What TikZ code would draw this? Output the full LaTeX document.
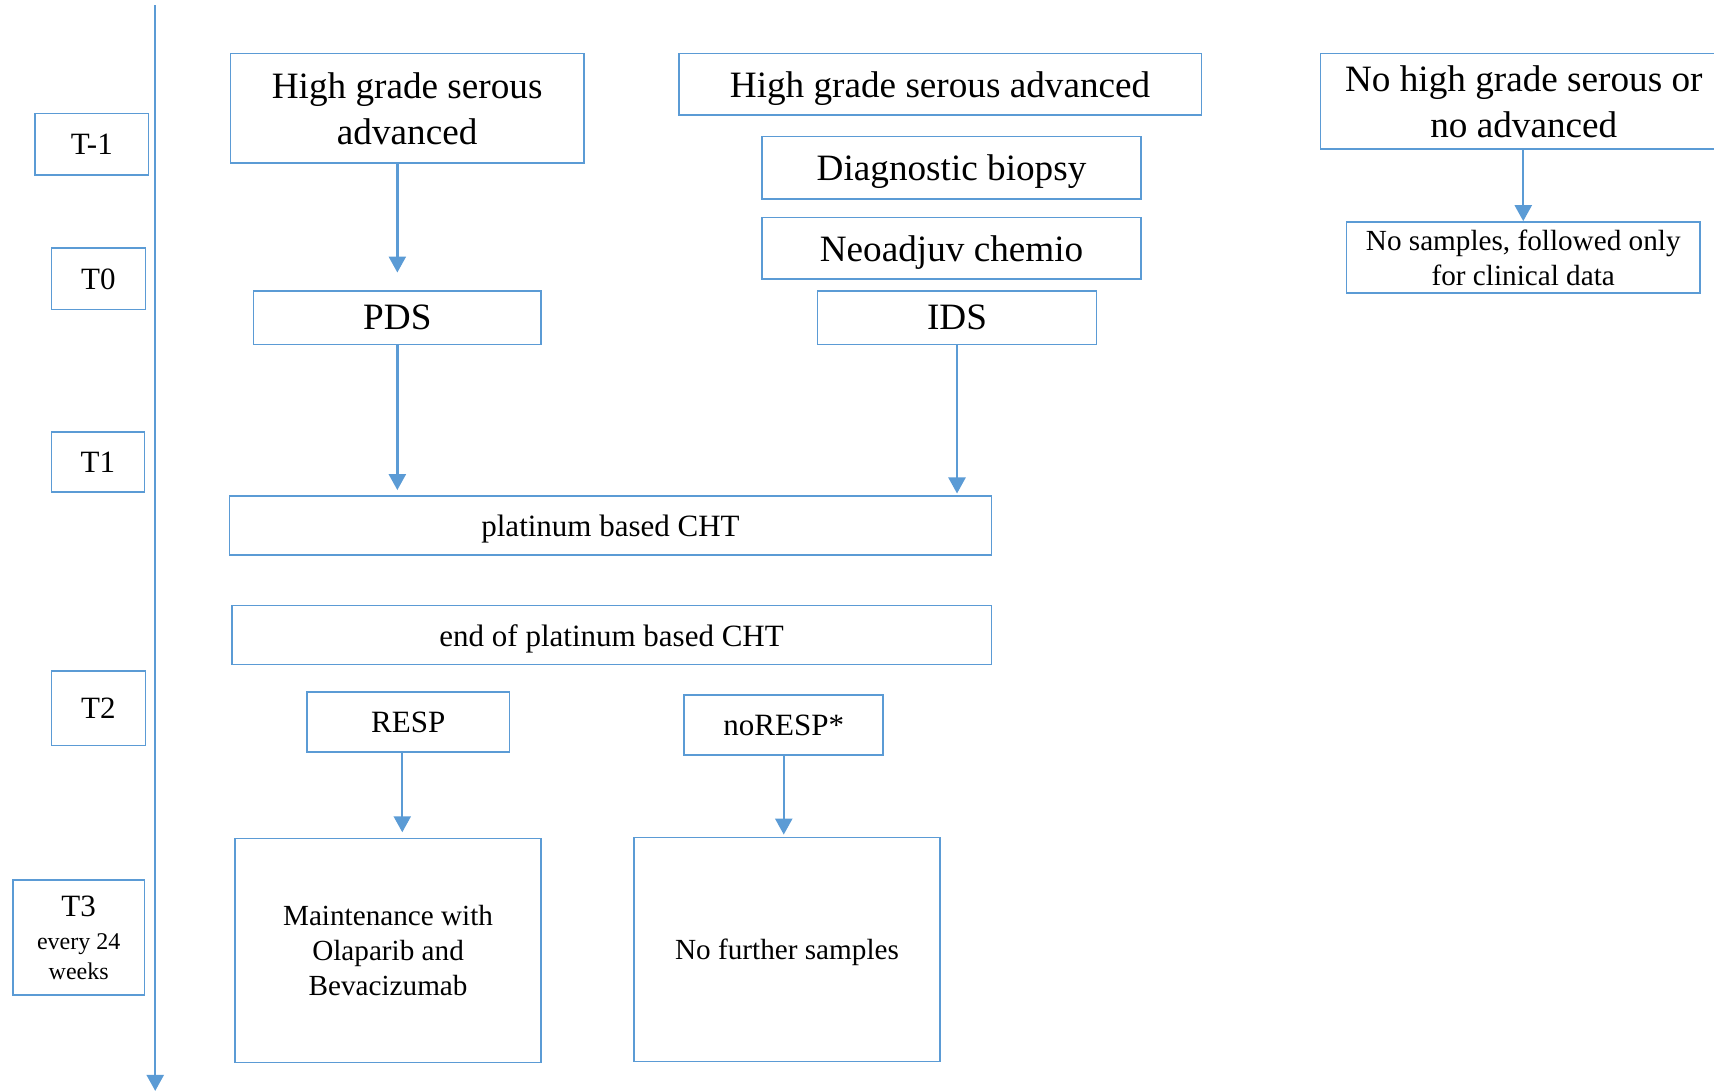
\documentclass[tikz,border=0pt]{standalone}
\usepackage{fontspec}
\setmainfont{Liberation Serif}
\usetikzlibrary{arrows.meta}

\definecolor{lineblue}{HTML}{5B9BD5}

\begin{document}
\begin{tikzpicture}[x=0.5466pt,y=-0.5466pt,
  box/.style={draw=lineblue,line width=0.8pt,inner sep=0pt,align=center,text depth=0pt},
  arr/.style={draw=lineblue,line width=1.2pt,-{Triangle[width=8.5pt,length=8pt]}},
  big/.style={font=\fontsize{18.6}{23}\selectfont},
  mid/.style={font=\fontsize{15.5}{18}\selectfont},
  small/.style={font=\fontsize{14.6}{17.5}\selectfont},
  tiny/.style={font=\fontsize{12}{14.8}\selectfont}]

\useasboundingbox (0,0) rectangle (1568,998);

% The time line on the left and its stages
\coordinate (axtop) at (142,5);
\coordinate (axbot) at (142,998);
\draw[arr] (axtop) -- (axbot);
\node[box,mid,minimum width=56.8pt,minimum height=30.6pt] (tm1) at (84,132) {T-1};
\node[box,mid,minimum width=47pt,minimum height=30.6pt] (t0) at (90,255) {T0};
\node[box,mid,minimum width=46.5pt,minimum height=30pt] (t1) at (89.5,422.5) {T1};
\node[box,mid,minimum width=47pt,minimum height=37.2pt] (t2) at (90,648) {T2};
\node[box,tiny,minimum width=65.6pt,minimum height=57.4pt] (t3) at (72,857.5)
  {{\fontsize{15.5}{17}\selectfont T3}\\[2pt]every 24\\weeks};

% Primary debulking branch
\node[box,big,minimum width=176.6pt,minimum height=54.7pt] (hgsA) at (372.5,99) {High grade serous\\advanced};
\node[box,big,minimum width=143.8pt,minimum height=26.8pt] (pds) at (363.5,290.5) {PDS};

% Neoadjuvant branch
\node[box,big,minimum width=261.3pt,minimum height=30.6pt] (hgsB) at (860,77) {High grade serous advanced};
\node[box,big,minimum width=189.7pt,minimum height=31.2pt] (biopsy) at (870.5,153.5) {Diagnostic biopsy};
\node[box,big,minimum width=189.7pt,minimum height=30.6pt] (neoadj) at (870.5,227) {Neoadjuv chemio};
\node[box,big,minimum width=139.4pt,minimum height=26.8pt] (ids) at (875.5,290.5) {IDS};

% Excluded patients
\node[box,big,minimum width=203.3pt,minimum height=47.6pt] (nohgs) at (1394,92.5) {No high grade serous or\\no advanced};
\node[box,small,minimum width=176.6pt,minimum height=35.5pt] (nosamp) at (1393.5,235.5) {No samples, followed only\\for clinical data};

% Chemotherapy
\node[box,mid,minimum width=381pt,minimum height=29.5pt] (plat) at (558.5,481) {platinum based CHT};
\node[box,mid,minimum width=379.9pt,minimum height=29.5pt] (endplat) at (559.5,581) {end of platinum based CHT};

% Response and follow up
\node[box,mid,minimum width=101.1pt,minimum height=30pt] (resp) at (373.5,660.5) {RESP};
\node[box,mid,minimum width=99.5pt,minimum height=30pt] (noresp) at (717,663.5) {noRESP*};
\node[box,small,minimum width=153pt,minimum height=112pt] (maint) at (355,869.5) {Maintenance with\\Olaparib and\\Bevacizumab};
\node[box,small,minimum width=153pt,minimum height=112pt] (nofurther) at (720,868.5) {No further samples};

% Arrows between the boxes
\draw[arr,shorten >=8.7pt] (pds.north |- hgsA.south) -- (pds.north);
\draw[arr,shorten >=2.7pt] (pds.south) -- (pds.south |- plat.north);
\draw[arr,shorten >=1pt] (ids.south) -- (ids.south |- plat.north);
\draw[arr] (nohgs.south -| nosamp.north) -- (nosamp.north);
\draw[arr,shorten >=2.7pt] ([xshift=-3pt]resp.south) -- ([xshift=-3pt]resp.south |- maint.north);
\draw[arr,shorten >=1pt] (noresp.south) -- (noresp.south |- nofurther.north);

\end{tikzpicture}
\end{document}
